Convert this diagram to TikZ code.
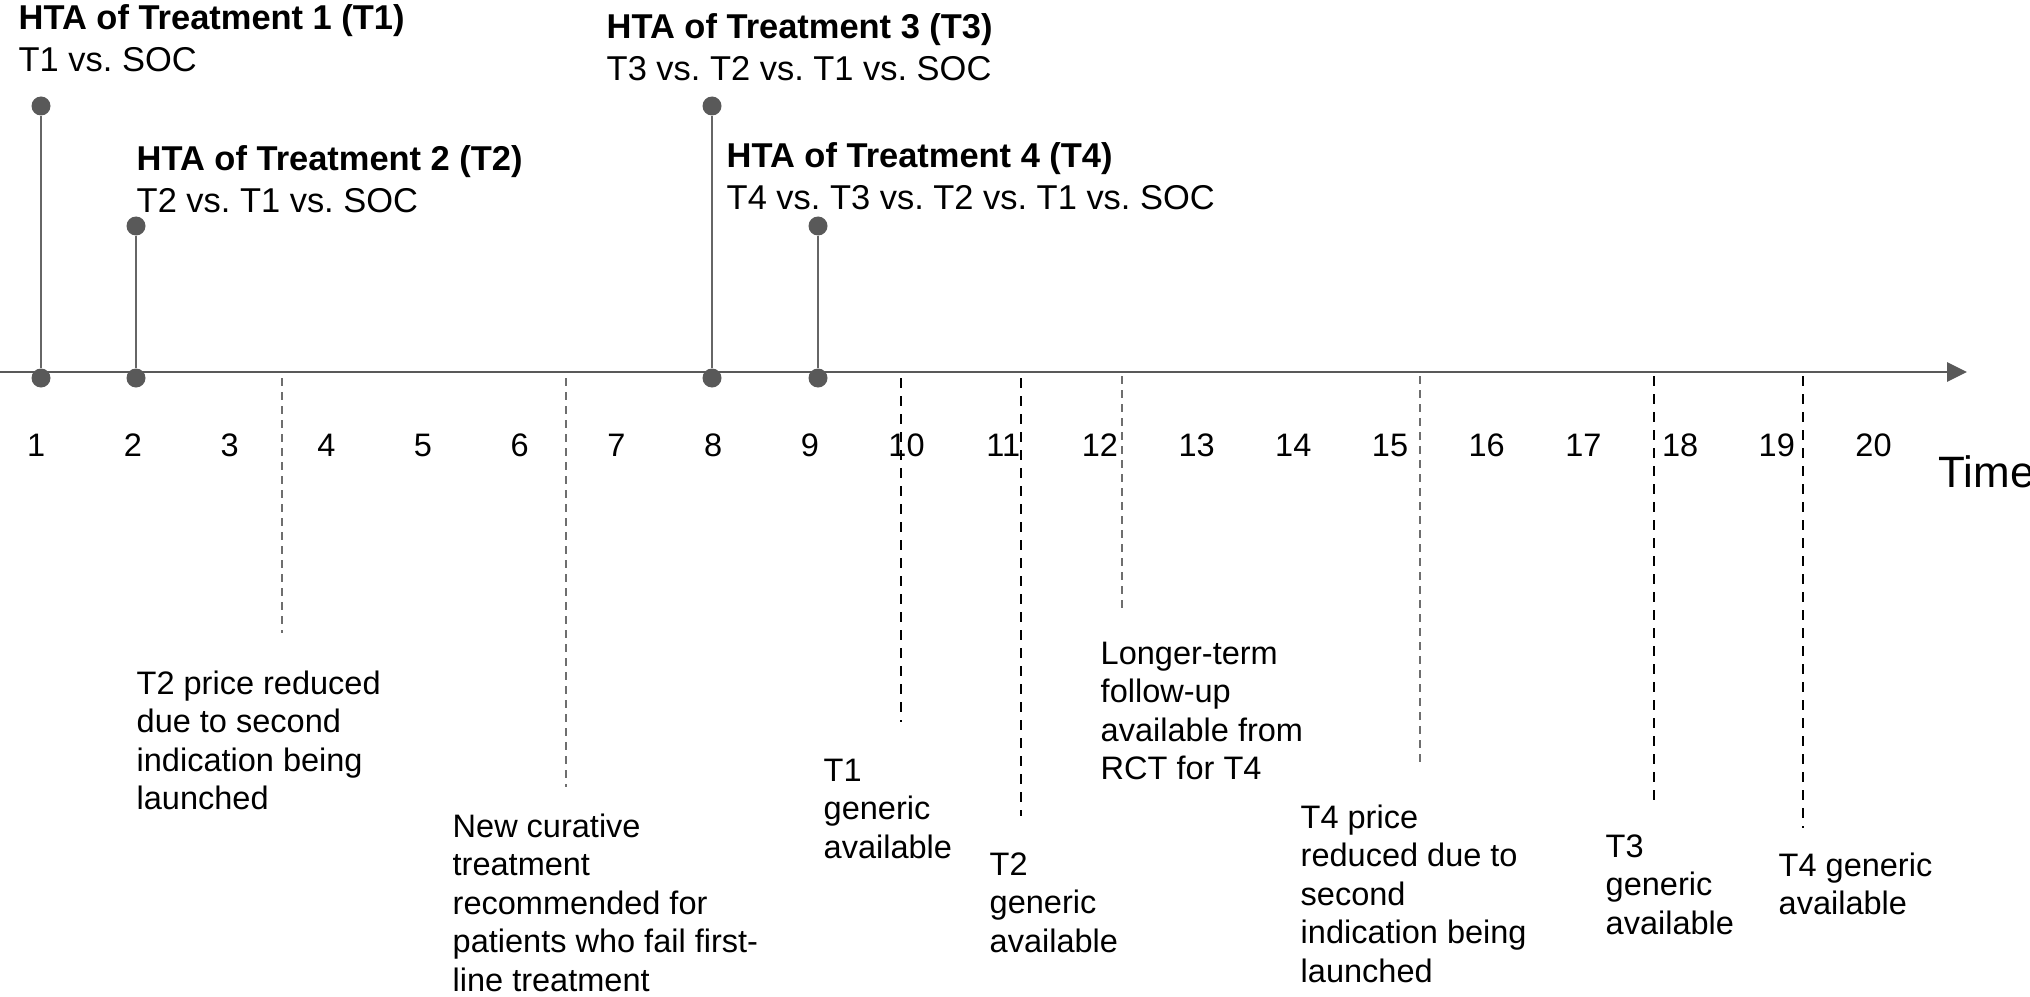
\documentclass[tikz,border=0pt]{standalone}
\usepackage{fontspec}
\setmainfont{Liberation Sans}
\usepackage{xcolor}
\usepackage{tikz}
\usetikzlibrary{arrows.meta}

\definecolor{axisgray}{HTML}{595959}
\definecolor{stemgray}{HTML}{666666}
\definecolor{dashgray}{HTML}{6E6E6E}

\tikzset{
	axisline/.style={draw=axisgray,line width=0.8pt,-{Triangle[length=0.2cm,width=0.19cm]}},
	stemline/.style={draw=stemgray,line width=0.6pt},
	hdot/.style={circle,fill=axisgray,inner sep=0pt,minimum size=0.19cm},
	hta/.style={anchor=north west,inner sep=0pt,align=left,font=\fontsize{9.8}{11.95}\selectfont},
	evtext/.style={anchor=north west,inner sep=0pt,align=left,font=\fontsize{9.25}{10.95}\selectfont},
	num/.style={inner sep=0pt,font=\fontsize{9.25}{11}\selectfont},
	greyline/.style={draw=dashgray,line width=0.45pt,dash pattern=on 0.08cm off 0.06cm},
	blackline/.style={draw=black,line width=0.7pt,dash pattern=on 0.1cm off 0.08cm}
}

\begin{document}
\frenchspacing
\begin{tikzpicture}
		\useasboundingbox (0,0) rectangle (20.30,-9.96);
		%
		\coordinate (O) at (0,-3.72);
		\coordinate (E) at (19.67,-3.72);
		\draw[axisline] (O) -- (E);
		\foreach \t in {1,...,20}
			\node[num] (n\t) at ({0.362+0.967*(\t-1)},-4.45) {\t};
		\node[anchor=west,inner sep=0pt,font=\fontsize{12.5}{15}\selectfont] (time) at (19.38,-4.72) {Time};
		%
		\node[hdot] (T1) at (0.41,-1.06) {};
		\node[hdot] (T1') at (0.41,-3.78) {};
		\node[hdot] (T2) at (1.36,-2.26) {};
		\node[hdot] (T2') at (1.36,-3.78) {};
		\node[hdot] (T3) at (7.12,-1.06) {};
		\node[hdot] (T3') at (7.12,-3.78) {};
		\node[hdot] (T4) at (8.18,-2.26) {};
		\node[hdot] (T4') at (8.18,-3.78) {};
		%
		\node[hta] (L1) at (0.18,-0.04) {\textbf{HTA of Treatment 1 (T1)}\\T1 vs. SOC};
		\node[hta] (L2) at (1.36,-1.45) {\textbf{HTA of Treatment 2 (T2)}\\T2 vs. T1 vs. SOC};
		\node[hta] (L3) at (6.06,-0.13) {\textbf{HTA of Treatment 3 (T3)}\\T3 vs. T2 vs. T1 vs. SOC};
		\node[hta] (L4) at (7.26,-1.42) {\textbf{HTA of Treatment 4 (T4)}\\T4 vs. T3 vs. T2 vs. T1 vs. SOC};
		%
		\coordinate (a1) at (2.82,-3.78);  \coordinate (b1) at (2.82,-6.33);
		\coordinate (a2) at (5.66,-3.78);  \coordinate (b2) at (5.66,-7.87);
		\coordinate (a3) at (9.01,-3.78);  \coordinate (b3) at (9.01,-7.22);
		\coordinate (a4) at (10.21,-3.78); \coordinate (b4) at (10.21,-8.16);
		\coordinate (a5) at (11.22,-3.76); \coordinate (b5) at (11.22,-6.09);
		\coordinate (a6) at (14.20,-3.76); \coordinate (b6) at (14.20,-7.65);
		\coordinate (a7) at (16.54,-3.76); \coordinate (b7) at (16.54,-8.03);
		\coordinate (a8) at (18.03,-3.76); \coordinate (b8) at (18.03,-8.28);
		%
		\node[evtext] (E1) at (1.36,-6.70) {T2 price reduced\\due to second\\indication being\\launched};
		\node[evtext] (E2) at (4.52,-8.13) {New curative\\treatment\\recommended for\\patients who fail first-\\line treatment};
		\node[evtext] (E3) at (8.23,-7.58) {T1\\generic\\available};
		\node[evtext] (E4) at (9.89,-8.52) {T2\\generic\\available};
		\node[evtext] (E5) at (11.00,-6.41) {Longer-term\\follow-up\\available from\\RCT for T4};
		\node[evtext] (E6) at (13.00,-8.04) {T4 price\\reduced due to\\second\\indication being\\launched};
		\node[evtext] (E7) at (16.05,-8.34) {T3\\generic\\available};
		\node[evtext] (E8) at (17.78,-8.52) {T4 generic\\available};
		%
		\path[stemline]
		% HTA stems
		(T1') edge (T1)
		(T2') edge (T2)
		(T3') edge (T3)
		(T4') edge (T4);
		\path
		% event lines
		(a1) edge[greyline] (b1)
		(a2) edge[greyline] (b2)
		(a3) edge[blackline] (b3)
		(a4) edge[blackline] (b4)
		(a5) edge[greyline] (b5)
		(a6) edge[greyline] (b6)
		(a7) edge[blackline] (b7)
		(a8) edge[blackline] (b8);
	\end{tikzpicture}
\end{document}
